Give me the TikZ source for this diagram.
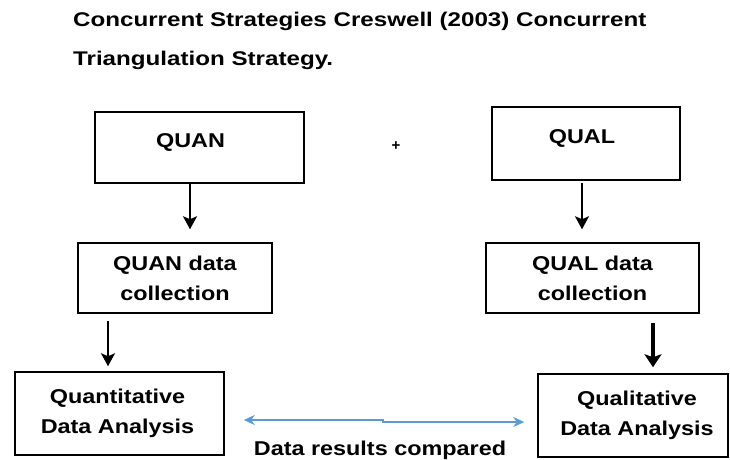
\documentclass[tikz,border=0pt]{standalone}
\usepackage{fontspec}
\setmainfont{Liberation Sans}
\newfontfamily\titlefont[FakeStretch=1.22]{Liberation Sans}
\newfontfamily\boxfont[FakeStretch=1.17]{Liberation Sans}
\usetikzlibrary{arrows.meta}
\definecolor{arrowblue}{RGB}{91,155,213}
\begin{document}
\begin{tikzpicture}[x=1pt,y=-1pt,
  boxnode/.style={draw=black,line width=1.5pt,inner sep=0pt,align=center,
    font=\boxfont\bfseries\fontsize{20}{30}\selectfont},
  titletext/.style={anchor=base west,inner sep=0pt,font=\titlefont\bfseries\fontsize{19.8}{24}\selectfont},
  thinarrow/.style={line width=1.8pt,-{Stealth[length=13pt,width=14pt,inset=3pt]}},
  thickarrow/.style={line width=3.5pt,-{Stealth[length=13pt,width=17pt,inset=3pt]}},
  bluearrow/.style={draw=arrowblue,line width=2.6pt,{Stealth[length=11pt,width=10pt]}-{Stealth[length=11pt,width=10pt]}},
  plaintext/.style={inner sep=0pt,font=\boxfont\bfseries\fontsize{20}{24}\selectfont}
]
\useasboundingbox (0,0) rectangle (730,459);
\fill[white] (0,0) rectangle (730,459);

% title
\node[titletext] (t1) at (73,26) {Concurrent Strategies Creswell (2003) Concurrent};
\node[titletext] (t2) at (73,65) {Triangulation Strategy.};

% top boxes
\node[boxnode,minimum width=209pt,text height=35pt,text depth=36pt] (quan) at (199.5,147.5) {\hspace*{-18pt}QUAN};
\node[boxnode,minimum width=188pt,text height=36pt,text depth=37pt] (qual) at (586,143.5) {\hspace*{-8pt}QUAL};
\node[inner sep=0pt,font=\bfseries\fontsize{15}{15}\selectfont] (plus) at (396,146.5) {+};

% data collection boxes
\node[boxnode,minimum width=194pt,minimum height=70pt] (quandc) at (175,278) {QUAN data\\collection};
\node[boxnode,minimum width=213pt,minimum height=70pt] (qualdc) at (592.5,278) {QUAL data\\collection};

% analysis boxes
\node[boxnode,minimum width=209pt,minimum height=83pt] (quanan) at (119.5,413.5) {\hspace*{-4pt}Quantitative\\\hspace*{-4pt}Data Analysis};
\node[boxnode,minimum width=190pt,minimum height=83pt] (qualan) at (633,415.5) {\hspace*{8pt}Qualitative\\\hspace*{8pt}Data Analysis};

% vertical connectors
\draw[thinarrow] (quan.south -| 190,0) -- ([yshift=13pt]quandc.north -| 190,0);
\draw[thinarrow] ([yshift=-2pt]qual.south -| 582,0) -- ([yshift=13pt]qualdc.north -| 582,0);
\draw[thinarrow] ([yshift=-7pt]quandc.south -| 108,0) -- ([yshift=5pt]quanan.north -| 108,0);
\draw[thickarrow] ([yshift=-9pt]qualdc.south -| 653,0) -- ([yshift=6pt]qualan.north -| 653,0);

% comparison arrow
\coordinate (cl) at ([xshift=19pt]quanan.east |- 0,420);
\coordinate (cr) at ([xshift=-13pt]qualan.west |- 0,422);
\draw[bluearrow] (cl) -- (383,420) -- (383,422) -- (cr);
\node[plaintext,anchor=base] (cmp) at (380,455) {Data results compared};
\end{tikzpicture}
\end{document}
